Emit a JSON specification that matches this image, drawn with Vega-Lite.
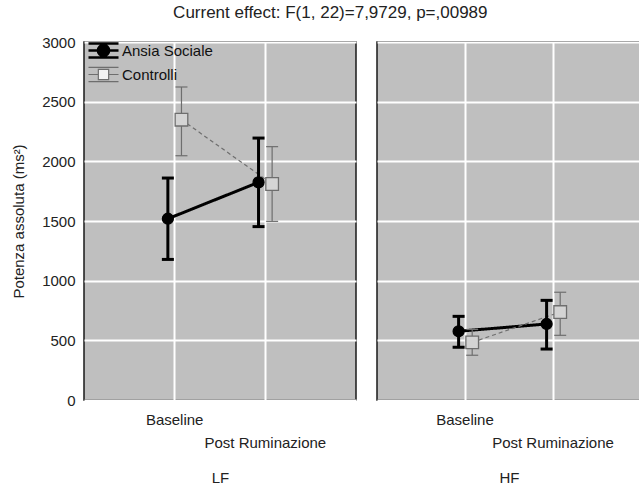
{
  "$schema": "https://vega.github.io/schema/vega-lite/v6.json",
  "padding": {"left": 10, "top": 4, "right": 0, "bottom": 0},
  "background": "white",
  "title": {"text": "Current effect: F(1, 22)=7,9729, p=,00989", "fontSize": 17, "fontWeight": "normal", "color": "#222", "anchor": "middle", "offset": 12, "dx": 4, "font": "Liberation Sans"},
  "data": {"values": [
    {"panel": "LF", "cond": "Baseline", "group": "Ansia Sociale", "mean": 1519, "lo": 1178, "hi": 1860},
    {"panel": "LF", "cond": "Post Ruminazione", "group": "Ansia Sociale", "mean": 1824, "lo": 1453, "hi": 2195},
    {"panel": "LF", "cond": "Baseline", "group": "Controlli", "mean": 2349, "lo": 2047, "hi": 2623},
    {"panel": "LF", "cond": "Post Ruminazione", "group": "Controlli", "mean": 1810, "lo": 1497, "hi": 2123},
    {"panel": "HF", "cond": "Baseline", "group": "Ansia Sociale", "mean": 576, "lo": 442, "hi": 701},
    {"panel": "HF", "cond": "Post Ruminazione", "group": "Ansia Sociale", "mean": 637, "lo": 427, "hi": 835},
    {"panel": "HF", "cond": "Baseline", "group": "Controlli", "mean": 483, "lo": 375, "hi": 591},
    {"panel": "HF", "cond": "Post Ruminazione", "group": "Controlli", "mean": 737, "lo": 542, "hi": 903}
  ]},
  "spacing": 19,
  "resolve": {"legend": {"color": "independent"}},
  "hconcat": [
    {
      "width": 272, "height": 358,
      "transform": [{"filter": "datum.panel === 'LF'"}],
      "encoding": {
        "x": {"field": "cond", "type": "nominal", "sort": ["Baseline", "Post Ruminazione"],
              "scale": {"type": "band", "paddingInner": 0.7, "paddingOuter": 0.85},
              "axis": {"title": "LF", "labelAngle": 0, "grid": true, "labelPadding": 12, "labelLineHeight": 23, "labelExpr": "datum.value === 'Baseline' ? 'Baseline' : ['', 'Post Ruminazione']", "titlePadding": 20}},
        "xOffset": {"field": "group", "type": "nominal", "sort": ["Ansia Sociale", "Controlli"]}
      },
      "layer": [
        {
          "mark": {"type": "line"},
          "encoding": {
            "y": {"field": "mean", "type": "quantitative", "scale": {"domain": [0, 3000], "nice": false}, "axis": {"values": [0, 500, 1000, 1500, 2000, 2500, 3000], "format": "d", "title": "Potenza assoluta (ms²)", "titlePadding": 15, "labelPadding": 9, "grid": true}},
            "color": {"field": "group", "type": "nominal", "scale": {"domain": ["Ansia Sociale", "Controlli"], "range": ["#000000", "#6e6e6e"]},
              "legend": {"orient": "none", "legendX": 12, "legendY": 1, "title": null, "padding": 0, "symbolSize": 352, "labelOffset": 11, "rowPadding": 2, "labelFontSize": 15, "labelColor": "#111", "labelFont": "Liberation Sans",
                "encode": {"symbols": {"update": {
                  "shape": {"signal": "datum.value === 'Ansia Sociale' ? 'M-1.6,-0.75H1.6M-1.6,0H1.6M-1.6,0.75H1.6M-0.6,0A0.6,0.6,0,1,1,0.6,0A0.6,0.6,0,1,1,-0.6,0Z' : 'M-1.6,-0.75H1.6M-1.6,0H-0.55M0.55,0H1.6M-1.6,0.75H1.6M-0.55,-0.55H0.55V0.55H-0.55Z'"},
                  "strokeWidth": {"signal": "datum.value === 'Ansia Sociale' ? 2.5 : 1.2"},
                  "fill": {"signal": "datum.value === 'Ansia Sociale' ? '#000000' : '#f2f2f2'"},
                  "stroke": {"signal": "datum.value === 'Ansia Sociale' ? '#000000' : '#6e6e6e'"}
                }}}}},
            "strokeDash": {"field": "group", "type": "nominal", "scale": {"domain": ["Ansia Sociale", "Controlli"], "range": [[1, 0], [4, 3]]}, "legend": null},
            "strokeWidth": {"field": "group", "type": "ordinal", "scale": {"domain": ["Ansia Sociale", "Controlli"], "range": [3, 1.2]}, "legend": null}
          }
        },
        {
          "mark": {"type": "rule"},
          "encoding": {
            "y": {"field": "lo", "type": "quantitative", "title": "Potenza assoluta (ms²)"},
            "y2": {"field": "hi"},
            "color": {"field": "group", "type": "nominal"},
            "strokeWidth": {"field": "group", "type": "ordinal", "scale": {"domain": ["Ansia Sociale", "Controlli"], "range": [3, 1.2]}, "legend": null}
          }
        },
        {
          "mark": {"type": "point", "shape": "stroke", "size": 144, "filled": false, "opacity": 1},
          "encoding": {
            "y": {"field": "lo", "type": "quantitative", "title": "Potenza assoluta (ms²)"},
            "color": {"field": "group", "type": "nominal"},
            "strokeWidth": {"field": "group", "type": "ordinal", "scale": {"domain": ["Ansia Sociale", "Controlli"], "range": [3, 1.2]}, "legend": null}
          }
        },
        {
          "mark": {"type": "point", "shape": "stroke", "size": 144, "filled": false, "opacity": 1},
          "encoding": {
            "y": {"field": "hi", "type": "quantitative", "title": "Potenza assoluta (ms²)"},
            "color": {"field": "group", "type": "nominal"},
            "strokeWidth": {"field": "group", "type": "ordinal", "scale": {"domain": ["Ansia Sociale", "Controlli"], "range": [3, 1.2]}, "legend": null}
          }
        },
        {
          "mark": {"type": "point", "filled": true, "opacity": 1, "strokeWidth": 1.3},
          "encoding": {
            "y": {"field": "mean", "type": "quantitative", "title": "Potenza assoluta (ms²)"},
            "shape": {"field": "group", "type": "nominal", "scale": {"domain": ["Ansia Sociale", "Controlli"], "range": ["circle", "square"]}, "legend": null},
            "fill": {"field": "group", "type": "nominal", "scale": {"domain": ["Ansia Sociale", "Controlli"], "range": ["#000000", "#d4d4d4"]}, "legend": null},
            "stroke": {"field": "group", "type": "nominal", "scale": {"domain": ["Ansia Sociale", "Controlli"], "range": ["#000000", "#6e6e6e"]}, "legend": null},
            "size": {"field": "group", "type": "ordinal", "scale": {"domain": ["Ansia Sociale", "Controlli"], "range": [120, 160]}, "legend": null}
          }
        }
      ]
    },
    {
      "width": 264, "height": 358,
      "transform": [{"filter": "datum.panel === 'HF'"}],
      "encoding": {
        "x": {"field": "cond", "type": "nominal", "sort": ["Baseline", "Post Ruminazione"],
              "scale": {"type": "band", "paddingInner": 0.7, "paddingOuter": 0.85},
              "axis": {"title": "HF", "labelAngle": 0, "grid": true, "labelPadding": 12, "labelLineHeight": 23, "labelExpr": "datum.value === 'Baseline' ? 'Baseline' : ['', 'Post Ruminazione']", "titlePadding": 20}},
        "xOffset": {"field": "group", "type": "nominal", "sort": ["Ansia Sociale", "Controlli"]}
      },
      "layer": [
        {
          "mark": {"type": "line"},
          "encoding": {
            "y": {"field": "mean", "type": "quantitative", "scale": {"domain": [0, 3000], "nice": false}, "axis": {"values": [0, 500, 1000, 1500, 2000, 2500, 3000], "title": null, "labels": false, "grid": true}},
            "color": {"field": "group", "type": "nominal", "scale": {"domain": ["Ansia Sociale", "Controlli"], "range": ["#000000", "#6e6e6e"]}, "legend": null},
            "strokeDash": {"field": "group", "type": "nominal", "scale": {"domain": ["Ansia Sociale", "Controlli"], "range": [[1, 0], [4, 3]]}, "legend": null},
            "strokeWidth": {"field": "group", "type": "ordinal", "scale": {"domain": ["Ansia Sociale", "Controlli"], "range": [3, 1.2]}, "legend": null}
          }
        },
        {
          "mark": {"type": "rule"},
          "encoding": {
            "y": {"field": "lo", "type": "quantitative", "title": null},
            "y2": {"field": "hi"},
            "color": {"field": "group", "type": "nominal", "legend": null},
            "strokeWidth": {"field": "group", "type": "ordinal", "scale": {"domain": ["Ansia Sociale", "Controlli"], "range": [3, 1.2]}, "legend": null}
          }
        },
        {
          "mark": {"type": "point", "shape": "stroke", "size": 144, "filled": false, "opacity": 1},
          "encoding": {
            "y": {"field": "lo", "type": "quantitative", "title": null},
            "color": {"field": "group", "type": "nominal", "legend": null},
            "strokeWidth": {"field": "group", "type": "ordinal", "scale": {"domain": ["Ansia Sociale", "Controlli"], "range": [3, 1.2]}, "legend": null}
          }
        },
        {
          "mark": {"type": "point", "shape": "stroke", "size": 144, "filled": false, "opacity": 1},
          "encoding": {
            "y": {"field": "hi", "type": "quantitative", "title": null},
            "color": {"field": "group", "type": "nominal", "legend": null},
            "strokeWidth": {"field": "group", "type": "ordinal", "scale": {"domain": ["Ansia Sociale", "Controlli"], "range": [3, 1.2]}, "legend": null}
          }
        },
        {
          "mark": {"type": "point", "filled": true, "opacity": 1, "strokeWidth": 1.3},
          "encoding": {
            "y": {"field": "mean", "type": "quantitative", "title": null},
            "shape": {"field": "group", "type": "nominal", "scale": {"domain": ["Ansia Sociale", "Controlli"], "range": ["circle", "square"]}, "legend": null},
            "fill": {"field": "group", "type": "nominal", "scale": {"domain": ["Ansia Sociale", "Controlli"], "range": ["#000000", "#d4d4d4"]}, "legend": null},
            "stroke": {"field": "group", "type": "nominal", "scale": {"domain": ["Ansia Sociale", "Controlli"], "range": ["#000000", "#6e6e6e"]}, "legend": null},
            "size": {"field": "group", "type": "ordinal", "scale": {"domain": ["Ansia Sociale", "Controlli"], "range": [120, 160]}, "legend": null}
          }
        }
      ]
    }
  ],
  "config": {
    "font": "Liberation Sans",
    "view": {"fill": "#bfbfbf", "stroke": "#1a1a1a", "strokeWidth": 1.5},
    "axis": {"gridColor": "#ffffff", "gridWidth": 2, "gridOpacity": 1, "domain": false, "ticks": false, "labelFont": "Liberation Sans", "labelFontSize": 15, "labelColor": "#222", "titleFont": "Liberation Sans", "titleFontSize": 15, "titleFontWeight": "normal", "titleColor": "#222"}
  }
}
